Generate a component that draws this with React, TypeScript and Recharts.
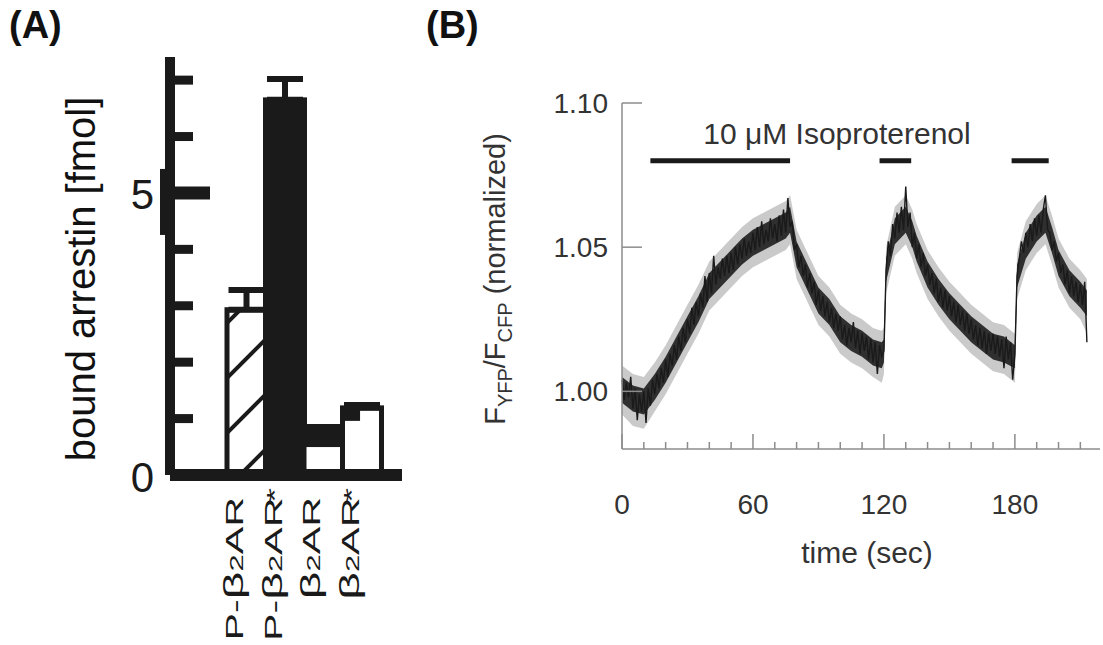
import React from 'react';
import {
  BarChart, Bar, XAxis, YAxis, Cell, ErrorBar,
  ComposedChart, Line, Area, ReferenceLine, ReferenceDot,
} from 'recharts';

// ---------- Panel A data ----------
const receptorLabels = ['P-β2AR', 'P-β2AR*', 'β2AR', 'β2AR*'];
const boundArrestin = [2.93, 6.65, 0.85, 1.19];
const arrestinErrUp = [0.35, 0.37, 0.0, 0.05];
const arrestinTicks = [0, 1, 2, 3, 4, 5, 6, 7];
const arrestinLabeledTicks = [0, 5];
const barFills = ['url(#hatchA)', '#1a1a1a', '#ffffff', '#ffffff'];

// ---------- Panel B data ----------
const traceStepSec = 1;
const fretRatio = [
  1.004, 0.997, 1.003, 0.998, 1.005, 0.994, 1.001, 0.990, 0.999, 0.993,
  1.000, 0.989, 1.001, 0.995, 1.004, 0.999, 1.006, 1.001, 1.008, 1.003,
  1.011, 1.005, 1.013, 1.009, 1.016, 1.011, 1.019, 1.014, 1.022, 1.017,
  1.025, 1.020, 1.029, 1.023, 1.031, 1.026, 1.034, 1.029, 1.040, 1.031,
  1.041, 1.034, 1.047, 1.037, 1.043, 1.039, 1.046, 1.040, 1.047, 1.041,
  1.048, 1.042, 1.050, 1.044, 1.051, 1.046, 1.053, 1.047, 1.052, 1.048,
  1.055, 1.049, 1.057, 1.050, 1.059, 1.051, 1.056, 1.052, 1.060, 1.053,
  1.058, 1.052, 1.061, 1.054, 1.063, 1.055, 1.067, 1.057, 1.059, 1.049,
  1.051, 1.043, 1.047, 1.040, 1.044, 1.036, 1.041, 1.034, 1.038, 1.030,
  1.035, 1.028, 1.033, 1.026, 1.031, 1.024, 1.029, 1.022, 1.027, 1.021,
  1.026, 1.018, 1.023, 1.016, 1.022, 1.017, 1.024, 1.015, 1.021, 1.013,
  1.020, 1.014, 1.019, 1.011, 1.018, 1.010, 1.017, 1.006, 1.016, 1.012,
  1.014, 1.042, 1.052, 1.047, 1.058, 1.053, 1.062, 1.055, 1.064, 1.056,
  1.071, 1.057, 1.062, 1.050, 1.055, 1.046, 1.051, 1.043, 1.048, 1.040,
  1.044, 1.037, 1.041, 1.034, 1.039, 1.031, 1.036, 1.029, 1.035, 1.028,
  1.033, 1.026, 1.031, 1.024, 1.030, 1.023, 1.028, 1.021, 1.027, 1.020,
  1.025, 1.018, 1.023, 1.016, 1.022, 1.015, 1.021, 1.013, 1.020, 1.014,
  1.020, 1.013, 1.019, 1.012, 1.018, 1.008, 1.019, 1.011, 1.017, 1.004,
  1.013, 1.040, 1.046, 1.052, 1.048, 1.055, 1.050, 1.058, 1.052, 1.060,
  1.054, 1.061, 1.055, 1.063, 1.068, 1.056, 1.055, 1.049, 1.052, 1.045,
  1.048, 1.041, 1.044, 1.037, 1.042, 1.034, 1.040, 1.033, 1.038, 1.031,
  1.037, 1.030, 1.038, 1.017,
];
// dense core of the noisy trace and its lighter fringe, read at selected times
const bandTime = [0, 5, 10, 15, 20, 25, 30, 35, 40, 45, 50, 55, 60, 65, 70, 75, 77, 80, 85, 90, 95, 100, 105, 110, 115, 119, 120, 121, 125, 130, 133, 135, 140, 145, 150, 155, 160, 165, 170, 175, 180, 181, 185, 190, 194, 197, 200, 205, 210, 213];
const bandLow = [0.996, 0.993, 0.992, 0.997, 1.003, 1.010, 1.017, 1.024, 1.032, 1.036, 1.040, 1.044, 1.047, 1.049, 1.051, 1.053, 1.055, 1.043, 1.035, 1.027, 1.023, 1.017, 1.014, 1.012, 1.009, 1.008, 1.010, 1.038, 1.051, 1.055, 1.050, 1.045, 1.036, 1.030, 1.025, 1.021, 1.017, 1.014, 1.011, 1.010, 1.008, 1.036, 1.046, 1.052, 1.055, 1.048, 1.040, 1.033, 1.029, 1.026];
const bandHigh = [1.005, 1.002, 1.001, 1.006, 1.012, 1.019, 1.026, 1.033, 1.041, 1.045, 1.049, 1.053, 1.056, 1.058, 1.060, 1.062, 1.064, 1.052, 1.044, 1.036, 1.032, 1.026, 1.023, 1.021, 1.018, 1.017, 1.018, 1.046, 1.060, 1.064, 1.059, 1.054, 1.045, 1.039, 1.034, 1.030, 1.026, 1.023, 1.020, 1.019, 1.016, 1.044, 1.055, 1.061, 1.064, 1.057, 1.049, 1.042, 1.038, 1.035];
const fringeLow = [0.992, 0.988, 0.987, 0.993, 0.999, 1.006, 1.013, 1.020, 1.028, 1.032, 1.036, 1.040, 1.043, 1.045, 1.047, 1.049, 1.051, 1.039, 1.031, 1.023, 1.019, 1.013, 1.010, 1.008, 1.005, 1.003, 1.006, 1.034, 1.047, 1.051, 1.046, 1.041, 1.032, 1.026, 1.021, 1.017, 1.013, 1.010, 1.007, 1.006, 1.003, 1.032, 1.042, 1.048, 1.051, 1.044, 1.036, 1.029, 1.025, 1.020];
const fringeHigh = [1.009, 1.006, 1.005, 1.010, 1.016, 1.023, 1.030, 1.037, 1.045, 1.049, 1.053, 1.057, 1.060, 1.062, 1.064, 1.066, 1.068, 1.056, 1.048, 1.040, 1.036, 1.030, 1.027, 1.025, 1.022, 1.021, 1.022, 1.050, 1.064, 1.068, 1.063, 1.058, 1.049, 1.043, 1.038, 1.034, 1.030, 1.027, 1.024, 1.023, 1.020, 1.048, 1.059, 1.065, 1.068, 1.061, 1.053, 1.046, 1.042, 1.039];
const timeTicks = [0, 10, 20, 30, 40, 50, 60, 70, 80, 90, 100, 110, 120, 130, 140, 150, 160, 170, 180, 190, 200, 210];
const timeLabeledTicks = [0, 60, 120, 180];
const ratioTicks = [1.0, 1.05, 1.1];
const stimStart = [13, 118, 178.5];
const stimEnd = [77, 132.5, 195.5];
const stimLevel = 1.08;
const stimLabel = '10 μM Isoproterenol';
const stimLabelTime = 98.5;
const stimLabelLevel = 1.0895;

const FONT = '"Liberation Sans", Arial, Helvetica, sans-serif';
const INK = '#1a1a1a';
const GREY_AXIS = '#8c8c8c';
const GREY_TEXT = '#333333';

const barData = receptorLabels.map((name, i) => ({
  name,
  value: boundArrestin[i],
  err: [0, arrestinErrUp[i]],
}));

const traceData = fretRatio.map((v, i) => {
  const t = i * traceStepSec;
  const k = bandTime.indexOf(t);
  return {
    t,
    v,
    band: k >= 0 ? [bandLow[k], bandHigh[k]] : null,
    fringe: k >= 0 ? [fringeLow[k], fringeHigh[k]] : null,
  };
});

// ---------- Panel A ticks / shapes ----------
const ArrestinTick = (props: any) => {
  const { x, y, payload } = props;
  const v = payload.value;
  const major = v === 5;
  return (
    <g>
      {v !== 0 && (
        <line x1={x} x2={x + (major ? 40 : 23)} y1={y} y2={y} stroke={INK} strokeWidth={major ? 13 : 9} />
      )}
      {major && <rect x={x - 10} y={y - 24} width={10} height={66} fill={INK} />}
      {arrestinLabeledTicks.includes(v) && (
        <text x={x - 16} y={y + 2} textAnchor="end" dominantBaseline="central" fontSize={42} fontFamily={FONT} fill={INK}>
          {v}
        </text>
      )}
    </g>
  );
};

const ArrestinBar = (props: any) => {
  const { x, y, width, height, fill, index } = props;
  if (!(height > 0)) return null;
  return (
    <g>
      <rect x={x} y={y} width={width} height={height} fill={fill} stroke={INK} strokeWidth={5} />
      {index === 2 && <rect x={x} y={y} width={width} height={Math.min(20, height)} fill={INK} />}
      {index === 3 && <rect x={x} y={y} width={width * 0.45} height={Math.min(13, height)} fill={INK} />}
    </g>
  );
};

const ReceptorTick = (props: any) => {
  const { x, payload } = props;
  const label: string = payload.value;
  const idx = label.indexOf('2');
  const pre = label.slice(0, idx);
  const post = label.slice(idx + 1);
  const hasStar = post.endsWith('*');
  const core = hasStar ? post.slice(0, -1) : post;
  const betaAt = pre.indexOf('β');
  const prefix = pre.slice(0, betaAt);
  const yEnd = hasStar ? 488 : 497;
  return (
    <text
      transform={`translate(${x - 3}, ${yEnd}) rotate(-90) scale(1.72, 1)`}
      textAnchor="end"
      fontSize={24}
      fontFamily={FONT}
      fill={INK}
    >
      <tspan>{prefix}</tspan>
      <tspan fontSize={28}>β</tspan>
      <tspan fontSize={18}>2</tspan>
      <tspan>{core}</tspan>
      {hasStar && (
        <tspan fontSize={22} dx={-3}>*</tspan>
      )}
    </text>
  );
};

// ---------- Panel B ticks ----------
const TimeTick = (props: any) => {
  const { x, y, payload } = props;
  const v = payload.value;
  const major = timeLabeledTicks.includes(v);
  return (
    <g>
      <line x1={x} x2={x} y1={y} y2={y - (major ? 15 : 7)} stroke={GREY_AXIS} strokeWidth={1.5} />
      {major && (
        <text x={x} y={y + 55} textAnchor="middle" dominantBaseline="central" fontSize={28} fontFamily={FONT} fill={GREY_TEXT}>
          {v}
        </text>
      )}
    </g>
  );
};

const RatioTick = (props: any) => {
  const { x, y, payload } = props;
  const v = payload.value;
  return (
    <g>
      <line x1={x} x2={x + 20} y1={y} y2={y} stroke={GREY_AXIS} strokeWidth={1.5} />
      <text x={x - 14} y={y} textAnchor="end" dominantBaseline="central" fontSize={28} fontFamily={FONT} fill={GREY_TEXT}>
        {v.toFixed(2)}
      </text>
    </g>
  );
};

const PanelA = () => (
  <BarChart
    width={420}
    height={645}
    data={barData}
    margin={{ top: 57, right: 18, bottom: 140, left: 110 }}
    barCategoryGap={0}
  >
    <XAxis
      dataKey="name"
      type="category"
      padding={{ left: 57, right: 21 }}
      axisLine={{ stroke: INK, strokeWidth: 12 }}
      tickLine={false}
      tickSize={0}
      tickMargin={0}
      interval={0}
      height={30}
      tick={(p: any) => <ReceptorTick {...p} />}
    />
    <YAxis
      type="number"
      domain={[0, 7.41]}
      ticks={arrestinTicks}
      interval={0}
      width={60}
      axisLine={{ stroke: INK, strokeWidth: 10 }}
      tickLine={false}
      tickSize={0}
      tickMargin={0}
      tick={(p: any) => <ArrestinTick {...p} />}
    />
    <Bar dataKey="value" isAnimationActive={false} stroke={INK} strokeWidth={5} shape={(p: any) => <ArrestinBar {...p} />}>
      {barData.map((_, i) => (
        <Cell key={i} fill={barFills[i]} />
      ))}
      <ErrorBar dataKey="err" direction="y" width={18} stroke={INK} strokeWidth={6} isAnimationActive={false} />
    </Bar>
  </BarChart>
);

const PanelB = () => (
  <ComposedChart
    width={683}
    height={645}
    data={traceData}
    margin={{ top: 103, right: 3, bottom: 136, left: 122 }}
  >
    <XAxis
      dataKey="t"
      type="number"
      domain={[0, 219]}
      ticks={timeTicks}
      interval={0}
      height={60}
      axisLine={{ stroke: GREY_AXIS, strokeWidth: 1.5 }}
      tickLine={false}
      tickSize={0}
      tickMargin={0}
      tick={(p: any) => <TimeTick {...p} />}
    />
    <YAxis
      type="number"
      domain={[0.98, 1.1]}
      ticks={ratioTicks}
      interval={0}
      width={80}
      allowDataOverflow
      axisLine={{ stroke: GREY_AXIS, strokeWidth: 1.5 }}
      tickLine={false}
      tickSize={0}
      tickMargin={0}
      tick={(p: any) => <RatioTick {...p} />}
    />
    {stimStart.map((s, i) => (
      <ReferenceLine
        key={i}
        segment={[{ x: s, y: stimLevel }, { x: stimEnd[i], y: stimLevel }]}
        stroke={INK}
        strokeWidth={5}
      />
    ))}
    <ReferenceDot
      x={stimLabelTime}
      y={stimLabelLevel}
      r={0}
      fill="none"
      stroke="none"
      label={{ value: stimLabel, position: 'center', fontSize: 30, fill: GREY_TEXT, fontFamily: FONT }}
    />
    <Area
      type="linear"
      dataKey="fringe"
      connectNulls
      stroke="none"
      fill="#8a8a8a"
      fillOpacity={0.45}
      isAnimationActive={false}
    />
    <Area
      type="linear"
      dataKey="band"
      connectNulls
      stroke="none"
      fill="#222222"
      fillOpacity={0.92}
      isAnimationActive={false}
    />
    <Line
      type="linear"
      dataKey="v"
      stroke="#1a1a1a"
      strokeWidth={1.4}
      strokeLinejoin="miter"
      dot={false}
      isAnimationActive={false}
    />
  </ComposedChart>
);

export default function App() {
  return (
    <div style={{ position: 'absolute', left: 0, top: 0, width: 1103, height: 645, background: '#fff', fontFamily: FONT }}>
      <svg width={0} height={0} style={{ position: 'absolute' }}>
        <defs>
          <pattern id="hatchA" patternUnits="userSpaceOnUse" width={55} height={55} x={0} y={0}>
            <rect width={55} height={55} fill="#fff" />
            <line x1={0} y1={55} x2={55} y2={0} stroke={INK} strokeWidth={4} />
            <line x1={-5} y1={5} x2={5} y2={-5} stroke={INK} strokeWidth={4} />
            <line x1={50} y1={60} x2={60} y2={50} stroke={INK} strokeWidth={4} />
          </pattern>
        </defs>
      </svg>
      <div style={{ position: 'absolute', left: 0, top: 0 }}>
        <PanelA />
      </div>
      <div style={{ position: 'absolute', left: 420, top: 0 }}>
        <PanelB />
      </div>
      <svg width={1103} height={645} style={{ position: 'absolute', left: 0, top: 0, pointerEvents: 'none' }}>
        <text x={9} y={38} fontSize={38} fontWeight="bold" fontFamily={FONT} fill="#111">(A)</text>
        <text x={426} y={38} fontSize={38} fontWeight="bold" fontFamily={FONT} fill="#111">(B)</text>
        <text transform="translate(95, 279) rotate(-90)" textAnchor="middle" fontSize={40} fontFamily={FONT} fill="#111">
          bound arrestin [fmol]
        </text>
        <text transform="translate(505, 279) rotate(-90)" textAnchor="middle" fontSize={29} fontFamily={FONT} fill={GREY_TEXT}>
          <tspan>F</tspan>
          <tspan fontSize={20} dy={7}>YFP</tspan>
          <tspan dy={-7}>/F</tspan>
          <tspan fontSize={20} dy={7}>CFP</tspan>
          <tspan dy={-7}> (normalized)</tspan>
        </text>
        <text x={867} y={563} textAnchor="middle" fontSize={30} fontFamily={FONT} fill={GREY_TEXT}>
          time (sec)
        </text>
      </svg>
    </div>
  );
}
